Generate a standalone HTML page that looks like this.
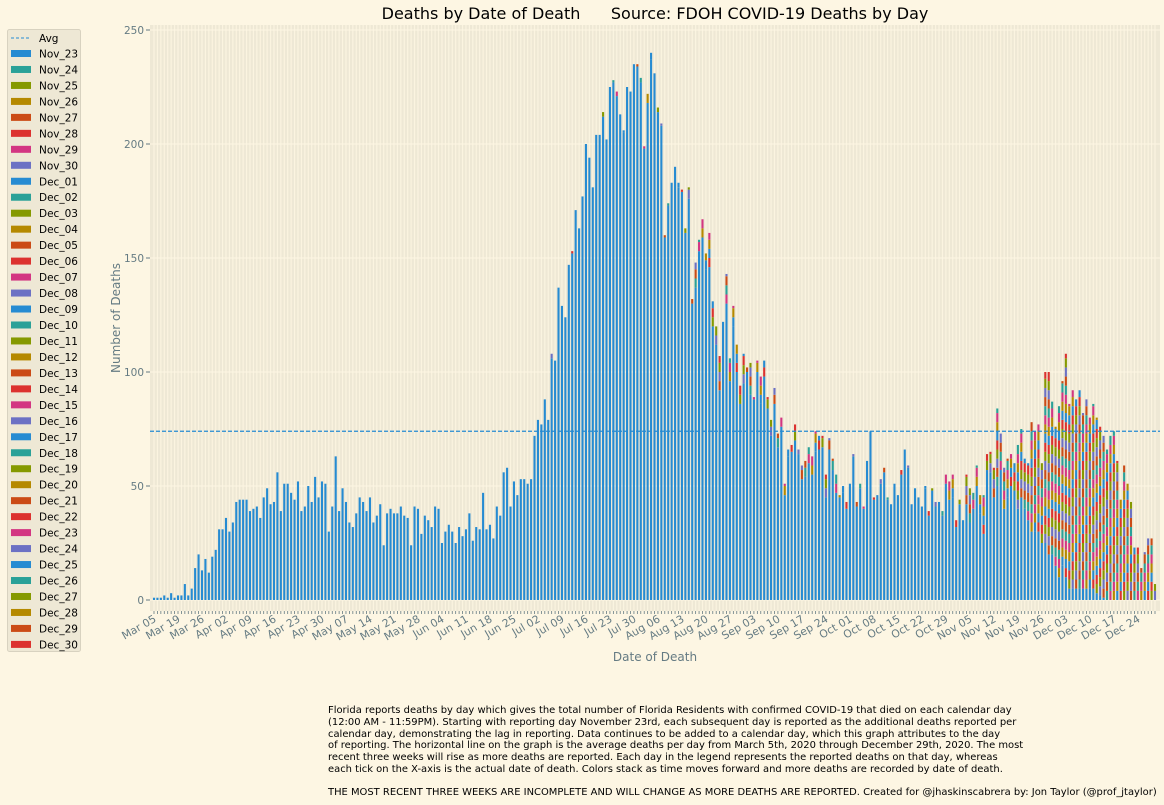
<!DOCTYPE html>
<html><head><meta charset="utf-8">
<style>
html,body{margin:0;padding:0;background:#fdf6e3;}
body{width:1164px;height:805px;overflow:hidden;position:relative;font-family:"DejaVu Sans","Liberation Sans",sans-serif;}
#foot{position:absolute;left:328px;top:705px;font-size:9.95px;line-height:11.75px;color:#000;white-space:pre;}
svg text{font-family:"DejaVu Sans","Liberation Sans",sans-serif;}
</style></head><body>
<svg id="chart" width="1164" height="700" style="position:absolute;left:0;top:0" xmlns="http://www.w3.org/2000/svg"></svg>
<div id="foot">Florida reports deaths by day which gives the total number of Florida Residents with confirmed COVID-19 that died on each calendar day
(12:00 AM - 11:59PM). Starting with reporting day November 23rd, each subsequent day is reported as the additional deaths reported per
calendar day, demonstrating the lag in reporting. Data continues to be added to a calendar day, which this graph attributes to the day
of reporting. The horizontal line on the graph is the average deaths per day from March 5th, 2020 through December 29th, 2020. The most
recent three weeks will rise as more deaths are reported. Each day in the legend represents the reported deaths on that day, whereas
each tick on the X-axis is the actual date of death. Colors stack as time moves forward and more deaths are recorded by date of death.

THE MOST RECENT THREE WEEKS ARE INCOMPLETE AND WILL CHANGE AS MORE DEATHS ARE REPORTED. Created for @jhaskinscabrera by: Jon Taylor (@prof_jtaylor)</div>
<script>
const totals=[1,1,1,2,1,3,1,2,2,7,2,5,14,20,13,18,12,19,22,31,31,36,30,34,43,44,44,44,39,40,41,36,45,49,42,43,56,39,51,51,47,44,52,39,41,50,43,54,45,52,51,30,41,63,39,49,43,34,32,38,45,43,39,45,34,37,42,24,38,40,38,38,41,37,36,24,41,40,29,37,35,32,41,40,25,30,33,30,25,32,28,31,38,26,32,31,47,31,33,27,41,37,56,58,41,52,46,53,53,51,53,72,79,
77,88,79,108,105,137,129,124,147,153,171,163,177,200,194,181,204,204,214,202,225,228,223,213,206,225,223,235,235,229,199,222,240,231,216,209,160,174,183,190,183,180,163,181,132,148,158,167,152,161,131,120,107,122,143,106,129,112,94,108,102,104,89,105,98,105,89,79,93,73,80,51,66,68,77,66,59,61,67,63,74,72,
72,55,71,62,55,46,50,43,51,64,43,51,41,61,74,45,46,53,58,45,42,51,46,57,66,59,42,49,45,41,50,39,49,43,43,39,55,52,55,35,44,35,55,49,47,59,46,46,64,65,58,84,73,58,62,64,60,68,75,62,60,78,74,77,60,100,100,87,76,85,96,108,86,92,88,92,82,88,80,86,80,76,72,66,72,74,61,44,59,51,43,23,23,14,21,27,27,7];
const base=[1,1,1,2,1,3,1,2,2,7,2,5,14,20,13,18,12,19,22,31,31,36,30,34,43,44,44,44,39,40,41,36,45,49,42,43,56,39,51,51,47,44,52,39,41,50,43,54,45,52,51,30,41,63,39,49,43,34,32,38,45,43,39,45,34,37,42,24,38,40,38,38,41,37,36,24,41,40,29,37,35,32,41,40,25,30,33,30,25,32,28,31,38,26,32,31,47,31,33,27,41,37,56,58,41,52,46,53,53,51,53,72,79,
77,88,79,106,105,137,129,124,147,152,171,163,177,200,194,181,204,204,212,202,225,227,221,213,205,225,223,235,234,227,198,218,237,231,214,208,159,173,183,190,181,179,161,176,130,137,153,159,145,146,120,112,92,122,130,96,120,100,86,95,100,90,88,100,86,98,84,72,86,67,76,46,63,65,70,64,53,54,60,55,65,66,
67,45,66,57,47,45,47,40,51,63,41,49,40,61,74,44,46,51,56,44,42,51,46,55,66,58,42,49,45,41,49,37,48,41,43,37,51,44,45,32,42,35,42,34,40,50,38,29,57,56,45,50,57,40,45,50,48,40,45,40,35,30,30,30,25,25,20,20,15,10,15,10,5,5,5,5,5,5,5,5,3,2,1,0,0,0,0,0,0,0,0,0,0,0,0,0,0,0];
const tickLabels=["Mar 05","Mar 19","Mar 26","Apr 02","Apr 09","Apr 16","Apr 23","Apr 30","May 07","May 14","May 21","May 28","Jun 04","Jun 11","Jun 18","Jun 25","Jul 02","Jul 09","Jul 16","Jul 23","Jul 30","Aug 06","Aug 13","Aug 20","Aug 27","Sep 03","Sep 10","Sep 17","Sep 24","Oct 01","Oct 08","Oct 15","Oct 22","Oct 29","Nov 05","Nov 12","Nov 19","Nov 26","Dec 03","Dec 10","Dec 17","Dec 24"];
const yTicks=[0,50,100,150,200,250];
const avgValue=74;
const legendNames=["Nov_23","Nov_24","Nov_25","Nov_26","Nov_27","Nov_28","Nov_29","Nov_30","Dec_01","Dec_02","Dec_03","Dec_04","Dec_05","Dec_06","Dec_07","Dec_08","Dec_09","Dec_10","Dec_11","Dec_12","Dec_13","Dec_14","Dec_15","Dec_16","Dec_17","Dec_18","Dec_19","Dec_20","Dec_21","Dec_22","Dec_23","Dec_24","Dec_25","Dec_26","Dec_27","Dec_28","Dec_29","Dec_30"];
const palette=["#268bd2","#2aa198","#859900","#b58900","#cb4b16","#dc322f","#d33682","#6c71c4"];

const svg=document.getElementById('chart');
const NS="http://www.w3.org/2000/svg";
function mk(tag,attrs,parent){const e=document.createElementNS(NS,tag);for(const k in attrs)e.setAttribute(k,attrs[k]);(parent||svg).appendChild(e);return e;}
const L=150,R=1160,T=25,B=611;
const N=totals.length;
function xs(i){return 154+i*(1155-154)/(N-1);}
function ys(v){return 600-v*2.28;}
const bw=2.1;

const bg=mk('rect',{x:L,y:T,width:R-L,height:B-T,fill:'#eee8d5'});


for(let i=0;i<N;i++){mk('line',{x1:xs(i),x2:xs(i),y1:T,y2:B,stroke:'#fbf4e0','stroke-width':1.2});}
yTicks.forEach(v=>{
  const g=mk('line',{x1:L,x2:R,y1:ys(v),y2:ys(v),stroke:'#fdf6e3','stroke-width':1});
  
  
  mk('line',{x1:L-4,x2:L,y1:ys(v),y2:ys(v),stroke:'#657b83','stroke-width':1});
  const t=mk('text',{x:L-6,y:ys(v)+4,'text-anchor':'end','font-size':10.5,fill:'#657b83'});
  t.textContent=v;
  
  
});
for(let i=0;i<N;i++){
  mk('line',{x1:xs(i),x2:xs(i),y1:B,y2:B+3,stroke:'#657b83','stroke-width':0.8});
  const b=base[i], tot=totals[i];
  const r=mk('rect',{x:xs(i)-bw/2,y:ys(b),width:bw,height:Math.max(0,b*2.28),fill:palette[0]});
  
  
  let cur=b,k=1;
  while(cur<tot){
    const step=Math.min(tot-cur,4);
    const s=mk('rect',{x:xs(i)-bw/2,y:ys(cur+step),width:bw,height:step*2.28,fill:palette[(k*3+i*5)%8]});
    
    
    cur+=step;k++;
  }
}
const avg=mk('line',{x1:L,x2:R,y1:ys(avgValue),y2:ys(avgValue),stroke:'#268bd2','stroke-width':1.2,'stroke-dasharray':'4,2'});


tickLabels.forEach((lab,k)=>{
  const x=xs(k*7);
  const t=mk('text',{x:x+3,y:B+10,'text-anchor':'end','font-size':10.8,fill:'#657b83',transform:`rotate(-30 ${x+3} ${B+10})`});
  t.textContent=lab;
  
  
});
let t=mk('text',{x:655,y:19,'text-anchor':'middle','font-size':16,fill:'#000'});
t.textContent="Deaths by Date of Death      Source: FDOH COVID-19 Deaths by Day";
t.setAttribute('xml:space','preserve');t.style.whiteSpace='pre';


t=mk('text',{x:655,y:661,'text-anchor':'middle','font-size':12,fill:'#657b83'});
t.textContent="Date of Death";


t=mk('text',{x:120,y:318,'text-anchor':'middle','font-size':12,fill:'#657b83',transform:'rotate(-90 120 318)'});
t.textContent="Number of Deaths";


// legend
const lg=mk('rect',{x:7.5,y:29.5,width:73,height:622,fill:'#eee8d5',stroke:'#d8d2c0',rx:2});


mk('line',{x1:11,x2:31,y1:38,y2:38,stroke:'#268bd2','stroke-dasharray':'3,2'});
t=mk('text',{x:39,y:42,'font-size':10.5,fill:'#000'});t.textContent="Avg";


legendNames.forEach((n,k)=>{
  const y=53.5+k*15.97;
  mk('rect',{x:11,y:y-3.5,width:20,height:7,fill:palette[k%8]});
  const tt=mk('text',{x:39,y:y+4,'font-size':10.5,fill:'#000'});
  tt.textContent=n;
  
  
});
</script>
</body></html>
